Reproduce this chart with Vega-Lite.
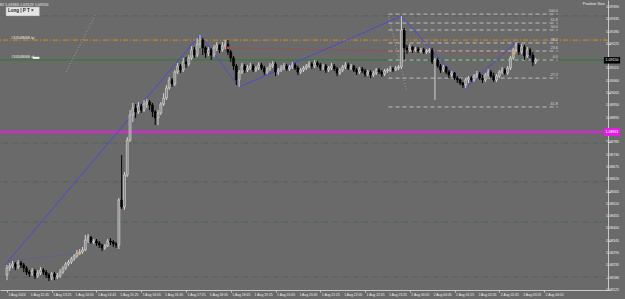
{
"$schema":"https://vega.github.io/schema/vega-lite/v6.json",
"width":608,"height":290,
"autosize":{"type":"none"},
"padding":{"left":0,"top":0,"right":17,"bottom":9},
"background":"#6a6a6a",
"config":{"view":{"stroke":null},"font":"Liberation Sans","axis":{"grid":false,"title":null,"domainColor":"#c8c8c8","tickColor":"#c8c8c8","labels":false,"tickSize":2}},
"datasets":{
"xl":[{"v":0,"t":"1 Aug 2024"},{"v":8,"t":"1 Aug 12:45"},{"v":16,"t":"1 Aug 13:25"},{"v":24,"t":"1 Aug 14:05"},{"v":32,"t":"1 Aug 14:45"},{"v":40,"t":"1 Aug 15:25"},{"v":48,"t":"1 Aug 16:05"},{"v":56,"t":"1 Aug 16:45"},{"v":64,"t":"1 Aug 17:25"},{"v":72,"t":"1 Aug 18:05"},{"v":80,"t":"1 Aug 18:45"},{"v":88,"t":"1 Aug 19:25"},{"v":96,"t":"1 Aug 20:05"},{"v":104,"t":"1 Aug 20:45"},{"v":112,"t":"1 Aug 21:25"},{"v":120,"t":"1 Aug 22:05"},{"v":128,"t":"1 Aug 22:45"},{"v":136,"t":"1 Aug 23:25"},{"v":144,"t":"2 Aug 00:05"},{"v":152,"t":"2 Aug 00:45"},{"v":160,"t":"2 Aug 01:25"},{"v":168,"t":"2 Aug 02:05"},{"v":176,"t":"2 Aug 02:45"},{"v":184,"t":"2 Aug 03:25"},{"v":192,"t":"2 Aug 04:05"}],
"yl":[{"p":1.08125},{"p":1.08180},{"p":1.08235},{"p":1.08290},{"p":1.08345},{"p":1.08400},{"p":1.08455},{"p":1.08510},{"p":1.08565},{"p":1.08620},{"p":1.08675},{"p":1.08730},{"p":1.08785},{"p":1.08895},{"p":1.08950},{"p":1.09005},{"p":1.09060},{"p":1.09115},{"p":1.09225},{"p":1.09280},{"p":1.09335},{"p":1.09390}],
"hl":[{"p":1.09350,"k":"dd"},{"p":1.08782,"k":"dd"},{"p":1.08608,"k":"dd"},{"p":1.08429,"k":"dd"},{"p":1.08183,"k":"dd"},{"p":1.09242,"k":"tp"},{"p":1.09153,"k":"sl"},{"p":1.08831,"k":"mag"}],
"fib":[{"a":136.4,"b":196.9,"p":1.09358,"t":"100.0"},{"a":136.4,"b":196.9,"p":1.09318,"t":"61.8"},{"a":136.4,"b":196.9,"p":1.09287,"t":"50.0"},{"a":136.4,"b":196.9,"p":1.09229,"t":"38.2"},{"a":136.4,"b":196.9,"p":1.09193,"t":"23.6"},{"a":136.4,"b":196.9,"p":1.09153,"t":"0.0"},{"a":136.4,"b":196.9,"p":1.09072,"t":"-27.2"},{"a":136.4,"b":196.9,"p":1.08943,"t":"-61.8"}],
"zz":[{"i":-0.7,"p":1.08237},{"i":69,"p":1.09265},{"i":83,"p":1.09032},{"i":141,"p":1.09349},{"i":164,"p":1.09028},{"i":182,"p":1.09233},{"i":189,"p":1.09135}],
"gdot":[{"i":31.6,"p":1.09354,"g":"a"},{"i":21.1,"p":1.09099,"g":"a"},{"i":136.4,"p":1.09350,"g":"b"},{"i":142.8,"p":1.09019,"g":"b"}],
"bdot":[{"i":1,"p":1.08255},{"i":26,"p":1.08290}],
"rdot":[{"i":79.1,"p":1.09207},{"i":181.4,"p":1.09184}],
"marks":[{"i":26,"p":1.08290,"k":"o"},{"i":79.1,"p":1.09207,"k":"r"},{"i":181.4,"p":1.09184,"k":"o"}],
"candles":[
{"i":0,"o":1.08192,"h":1.08237,"l":1.08169,"c":1.08223},
{"i":1,"o":1.08223,"h":1.08246,"l":1.08210,"c":1.08232},
{"i":2,"o":1.08232,"h":1.08255,"l":1.08223,"c":1.08241},
{"i":3,"o":1.08241,"h":1.08250,"l":1.08214,"c":1.08228},
{"i":4,"o":1.08228,"h":1.08259,"l":1.08219,"c":1.08246},
{"i":5,"o":1.08246,"h":1.08255,"l":1.08223,"c":1.08237},
{"i":6,"o":1.08237,"h":1.08246,"l":1.08205,"c":1.08223},
{"i":7,"o":1.08223,"h":1.08232,"l":1.08192,"c":1.08205},
{"i":8,"o":1.08205,"h":1.08214,"l":1.08183,"c":1.08197},
{"i":9,"o":1.08197,"h":1.08223,"l":1.08188,"c":1.08210},
{"i":10,"o":1.08210,"h":1.08219,"l":1.08174,"c":1.08188},
{"i":11,"o":1.08188,"h":1.08214,"l":1.08179,"c":1.08201},
{"i":12,"o":1.08201,"h":1.08228,"l":1.08192,"c":1.08214},
{"i":13,"o":1.08214,"h":1.08223,"l":1.08192,"c":1.08205},
{"i":14,"o":1.08205,"h":1.08214,"l":1.08179,"c":1.08192},
{"i":15,"o":1.08192,"h":1.08201,"l":1.08165,"c":1.08179},
{"i":16,"o":1.08179,"h":1.08205,"l":1.08169,"c":1.08197},
{"i":17,"o":1.08197,"h":1.08205,"l":1.08169,"c":1.08183},
{"i":18,"o":1.08183,"h":1.08201,"l":1.08174,"c":1.08188},
{"i":19,"o":1.08188,"h":1.08219,"l":1.08179,"c":1.08205},
{"i":20,"o":1.08205,"h":1.08232,"l":1.08197,"c":1.08223},
{"i":21,"o":1.08223,"h":1.08250,"l":1.08214,"c":1.08241},
{"i":22,"o":1.08241,"h":1.08259,"l":1.08232,"c":1.08250},
{"i":23,"o":1.08250,"h":1.08273,"l":1.08241,"c":1.08264},
{"i":24,"o":1.08264,"h":1.08286,"l":1.08255,"c":1.08277},
{"i":25,"o":1.08277,"h":1.08304,"l":1.08268,"c":1.08290},
{"i":26,"o":1.08290,"h":1.08308,"l":1.08281,"c":1.08295},
{"i":27,"o":1.08295,"h":1.08317,"l":1.08286,"c":1.08304},
{"i":28,"o":1.08304,"h":1.08371,"l":1.08299,"c":1.08348},
{"i":29,"o":1.08348,"h":1.08375,"l":1.08335,"c":1.08362},
{"i":30,"o":1.08362,"h":1.08366,"l":1.08331,"c":1.08340},
{"i":31,"o":1.08340,"h":1.08353,"l":1.08331,"c":1.08344},
{"i":32,"o":1.08344,"h":1.08353,"l":1.08322,"c":1.08335},
{"i":33,"o":1.08335,"h":1.08344,"l":1.08313,"c":1.08326},
{"i":34,"o":1.08326,"h":1.08331,"l":1.08299,"c":1.08313},
{"i":35,"o":1.08313,"h":1.08331,"l":1.08304,"c":1.08322},
{"i":36,"o":1.08322,"h":1.08353,"l":1.08317,"c":1.08344},
{"i":37,"o":1.08344,"h":1.08357,"l":1.08326,"c":1.08340},
{"i":38,"o":1.08340,"h":1.08348,"l":1.08317,"c":1.08331},
{"i":39,"o":1.08331,"h":1.08340,"l":1.08313,"c":1.08326},
{"i":40,"o":1.08326,"h":1.08536,"l":1.08308,"c":1.08527},
{"i":41,"o":1.08527,"h":1.08728,"l":1.08487,"c":1.08496},
{"i":42,"o":1.08496,"h":1.08652,"l":1.08483,"c":1.08639},
{"i":43,"o":1.08639,"h":1.08809,"l":1.08630,"c":1.08795},
{"i":44,"o":1.08795,"h":1.08929,"l":1.08786,"c":1.08907},
{"i":45,"o":1.08907,"h":1.08961,"l":1.08876,"c":1.08938},
{"i":46,"o":1.08938,"h":1.08956,"l":1.08894,"c":1.08921},
{"i":47,"o":1.08921,"h":1.08965,"l":1.08912,"c":1.08947},
{"i":48,"o":1.08947,"h":1.08956,"l":1.08916,"c":1.08929},
{"i":49,"o":1.08929,"h":1.08974,"l":1.08921,"c":1.08956},
{"i":50,"o":1.08956,"h":1.08979,"l":1.08938,"c":1.08965},
{"i":51,"o":1.08965,"h":1.08974,"l":1.08929,"c":1.08952},
{"i":52,"o":1.08952,"h":1.08961,"l":1.08898,"c":1.08921},
{"i":53,"o":1.08921,"h":1.08929,"l":1.08862,"c":1.08894},
{"i":54,"o":1.08894,"h":1.08929,"l":1.08862,"c":1.08916},
{"i":55,"o":1.08916,"h":1.08965,"l":1.08907,"c":1.08956},
{"i":56,"o":1.08956,"h":1.09005,"l":1.08947,"c":1.08983},
{"i":57,"o":1.08983,"h":1.09041,"l":1.08974,"c":1.09028},
{"i":58,"o":1.09028,"h":1.09077,"l":1.09019,"c":1.09064},
{"i":59,"o":1.09064,"h":1.09072,"l":1.09032,"c":1.09046},
{"i":60,"o":1.09046,"h":1.09108,"l":1.09037,"c":1.09099},
{"i":61,"o":1.09099,"h":1.09140,"l":1.09090,"c":1.09126},
{"i":62,"o":1.09126,"h":1.09135,"l":1.09095,"c":1.09108},
{"i":63,"o":1.09108,"h":1.09162,"l":1.09099,"c":1.09144},
{"i":64,"o":1.09144,"h":1.09166,"l":1.09117,"c":1.09135},
{"i":65,"o":1.09135,"h":1.09175,"l":1.09126,"c":1.09162},
{"i":66,"o":1.09162,"h":1.09215,"l":1.09153,"c":1.09198},
{"i":67,"o":1.09198,"h":1.09211,"l":1.09162,"c":1.09175},
{"i":68,"o":1.09175,"h":1.09251,"l":1.09166,"c":1.09224},
{"i":69,"o":1.09224,"h":1.09265,"l":1.09207,"c":1.09242},
{"i":70,"o":1.09242,"h":1.09251,"l":1.09175,"c":1.09207},
{"i":71,"o":1.09207,"h":1.09215,"l":1.09162,"c":1.09184},
{"i":72,"o":1.09184,"h":1.09211,"l":1.09171,"c":1.09198},
{"i":73,"o":1.09198,"h":1.09207,"l":1.09153,"c":1.09175},
{"i":74,"o":1.09175,"h":1.09220,"l":1.09166,"c":1.09207},
{"i":75,"o":1.09207,"h":1.09233,"l":1.09193,"c":1.09220},
{"i":76,"o":1.09220,"h":1.09224,"l":1.09184,"c":1.09198},
{"i":77,"o":1.09198,"h":1.09233,"l":1.09189,"c":1.09215},
{"i":78,"o":1.09215,"h":1.09242,"l":1.09202,"c":1.09224},
{"i":79,"o":1.09224,"h":1.09242,"l":1.09175,"c":1.09189},
{"i":80,"o":1.09189,"h":1.09198,"l":1.09144,"c":1.09162},
{"i":81,"o":1.09162,"h":1.09171,"l":1.09108,"c":1.09126},
{"i":82,"o":1.09126,"h":1.09135,"l":1.09041,"c":1.09064},
{"i":83,"o":1.09064,"h":1.09108,"l":1.09032,"c":1.09099},
{"i":84,"o":1.09099,"h":1.09140,"l":1.09090,"c":1.09126},
{"i":85,"o":1.09126,"h":1.09135,"l":1.09095,"c":1.09108},
{"i":86,"o":1.09108,"h":1.09131,"l":1.09099,"c":1.09117},
{"i":87,"o":1.09117,"h":1.09140,"l":1.09108,"c":1.09126},
{"i":88,"o":1.09126,"h":1.09135,"l":1.09099,"c":1.09108},
{"i":89,"o":1.09108,"h":1.09126,"l":1.09099,"c":1.09117},
{"i":90,"o":1.09117,"h":1.09144,"l":1.09108,"c":1.09131},
{"i":91,"o":1.09131,"h":1.09140,"l":1.09108,"c":1.09117},
{"i":92,"o":1.09117,"h":1.09126,"l":1.09086,"c":1.09099},
{"i":93,"o":1.09099,"h":1.09122,"l":1.09090,"c":1.09113},
{"i":94,"o":1.09113,"h":1.09140,"l":1.09104,"c":1.09126},
{"i":95,"o":1.09126,"h":1.09148,"l":1.09117,"c":1.09135},
{"i":96,"o":1.09135,"h":1.09144,"l":1.09081,"c":1.09099},
{"i":97,"o":1.09099,"h":1.09117,"l":1.09086,"c":1.09108},
{"i":98,"o":1.09108,"h":1.09131,"l":1.09099,"c":1.09117},
{"i":99,"o":1.09117,"h":1.09140,"l":1.09108,"c":1.09126},
{"i":100,"o":1.09126,"h":1.09135,"l":1.09104,"c":1.09113},
{"i":101,"o":1.09113,"h":1.09131,"l":1.09104,"c":1.09122},
{"i":102,"o":1.09122,"h":1.09144,"l":1.09113,"c":1.09131},
{"i":103,"o":1.09131,"h":1.09140,"l":1.09108,"c":1.09117},
{"i":104,"o":1.09117,"h":1.09126,"l":1.09086,"c":1.09099},
{"i":105,"o":1.09099,"h":1.09117,"l":1.09090,"c":1.09108},
{"i":106,"o":1.09108,"h":1.09126,"l":1.09099,"c":1.09117},
{"i":107,"o":1.09117,"h":1.09135,"l":1.09108,"c":1.09126},
{"i":108,"o":1.09126,"h":1.09148,"l":1.09117,"c":1.09135},
{"i":109,"o":1.09135,"h":1.09144,"l":1.09113,"c":1.09126},
{"i":110,"o":1.09126,"h":1.09153,"l":1.09117,"c":1.09140},
{"i":111,"o":1.09140,"h":1.09148,"l":1.09122,"c":1.09131},
{"i":112,"o":1.09131,"h":1.09140,"l":1.09104,"c":1.09117},
{"i":113,"o":1.09117,"h":1.09135,"l":1.09108,"c":1.09126},
{"i":114,"o":1.09126,"h":1.09135,"l":1.09095,"c":1.09108},
{"i":115,"o":1.09108,"h":1.09126,"l":1.09099,"c":1.09117},
{"i":116,"o":1.09117,"h":1.09140,"l":1.09108,"c":1.09126},
{"i":117,"o":1.09126,"h":1.09135,"l":1.09104,"c":1.09113},
{"i":118,"o":1.09113,"h":1.09122,"l":1.09081,"c":1.09095},
{"i":119,"o":1.09095,"h":1.09117,"l":1.09086,"c":1.09108},
{"i":120,"o":1.09108,"h":1.09131,"l":1.09099,"c":1.09122},
{"i":121,"o":1.09122,"h":1.09144,"l":1.09113,"c":1.09131},
{"i":122,"o":1.09131,"h":1.09140,"l":1.09108,"c":1.09117},
{"i":123,"o":1.09117,"h":1.09135,"l":1.09108,"c":1.09126},
{"i":124,"o":1.09126,"h":1.09131,"l":1.09099,"c":1.09108},
{"i":125,"o":1.09108,"h":1.09117,"l":1.09086,"c":1.09099},
{"i":126,"o":1.09099,"h":1.09122,"l":1.09090,"c":1.09113},
{"i":127,"o":1.09113,"h":1.09122,"l":1.09095,"c":1.09104},
{"i":128,"o":1.09104,"h":1.09113,"l":1.09077,"c":1.09090},
{"i":129,"o":1.09090,"h":1.09108,"l":1.09081,"c":1.09099},
{"i":130,"o":1.09099,"h":1.09108,"l":1.09072,"c":1.09086},
{"i":131,"o":1.09086,"h":1.09104,"l":1.09077,"c":1.09095},
{"i":132,"o":1.09095,"h":1.09117,"l":1.09086,"c":1.09108},
{"i":133,"o":1.09108,"h":1.09117,"l":1.09090,"c":1.09099},
{"i":134,"o":1.09099,"h":1.09108,"l":1.09077,"c":1.09090},
{"i":135,"o":1.09090,"h":1.09113,"l":1.09081,"c":1.09104},
{"i":136,"o":1.09104,"h":1.09117,"l":1.09095,"c":1.09108},
{"i":137,"o":1.09108,"h":1.09126,"l":1.09099,"c":1.09113},
{"i":138,"o":1.09113,"h":1.09122,"l":1.09099,"c":1.09108},
{"i":139,"o":1.09108,"h":1.09126,"l":1.09104,"c":1.09117},
{"i":140,"o":1.09117,"h":1.09131,"l":1.09108,"c":1.09122},
{"i":141,"o":1.09122,"h":1.09349,"l":1.09113,"c":1.09287},
{"i":142,"o":1.09287,"h":1.09296,"l":1.09153,"c":1.09207},
{"i":143,"o":1.09207,"h":1.09220,"l":1.09180,"c":1.09198},
{"i":144,"o":1.09198,"h":1.09224,"l":1.09189,"c":1.09211},
{"i":145,"o":1.09211,"h":1.09215,"l":1.09184,"c":1.09198},
{"i":146,"o":1.09198,"h":1.09211,"l":1.09189,"c":1.09202},
{"i":147,"o":1.09202,"h":1.09211,"l":1.09184,"c":1.09193},
{"i":148,"o":1.09193,"h":1.09207,"l":1.09184,"c":1.09198},
{"i":149,"o":1.09198,"h":1.09207,"l":1.09180,"c":1.09189},
{"i":150,"o":1.09189,"h":1.09202,"l":1.09180,"c":1.09193},
{"i":151,"o":1.09193,"h":1.09207,"l":1.09184,"c":1.09198},
{"i":152,"o":1.09198,"h":1.09207,"l":1.09135,"c":1.09144},
{"i":153,"o":1.09144,"h":1.09162,"l":1.08974,"c":1.09153},
{"i":154,"o":1.09153,"h":1.09162,"l":1.09117,"c":1.09126},
{"i":155,"o":1.09126,"h":1.09135,"l":1.09095,"c":1.09108},
{"i":156,"o":1.09108,"h":1.09131,"l":1.09099,"c":1.09122},
{"i":157,"o":1.09122,"h":1.09126,"l":1.09090,"c":1.09099},
{"i":158,"o":1.09099,"h":1.09108,"l":1.09072,"c":1.09086},
{"i":159,"o":1.09086,"h":1.09104,"l":1.09077,"c":1.09095},
{"i":160,"o":1.09095,"h":1.09099,"l":1.09064,"c":1.09072},
{"i":161,"o":1.09072,"h":1.09081,"l":1.09050,"c":1.09064},
{"i":162,"o":1.09064,"h":1.09072,"l":1.09041,"c":1.09050},
{"i":163,"o":1.09050,"h":1.09055,"l":1.09028,"c":1.09041},
{"i":164,"o":1.09041,"h":1.09072,"l":1.09028,"c":1.09064},
{"i":165,"o":1.09064,"h":1.09081,"l":1.09050,"c":1.09072},
{"i":166,"o":1.09072,"h":1.09081,"l":1.09055,"c":1.09064},
{"i":167,"o":1.09064,"h":1.09090,"l":1.09055,"c":1.09081},
{"i":168,"o":1.09081,"h":1.09104,"l":1.09072,"c":1.09090},
{"i":169,"o":1.09090,"h":1.09099,"l":1.09064,"c":1.09072},
{"i":170,"o":1.09072,"h":1.09086,"l":1.09050,"c":1.09064},
{"i":171,"o":1.09064,"h":1.09095,"l":1.09055,"c":1.09086},
{"i":172,"o":1.09086,"h":1.09113,"l":1.09077,"c":1.09099},
{"i":173,"o":1.09099,"h":1.09108,"l":1.09072,"c":1.09081},
{"i":174,"o":1.09081,"h":1.09095,"l":1.09055,"c":1.09064},
{"i":175,"o":1.09064,"h":1.09090,"l":1.09055,"c":1.09081},
{"i":176,"o":1.09081,"h":1.09108,"l":1.09072,"c":1.09099},
{"i":177,"o":1.09099,"h":1.09122,"l":1.09090,"c":1.09108},
{"i":178,"o":1.09108,"h":1.09117,"l":1.09086,"c":1.09095},
{"i":179,"o":1.09095,"h":1.09126,"l":1.09086,"c":1.09117},
{"i":180,"o":1.09117,"h":1.09171,"l":1.09108,"c":1.09162},
{"i":181,"o":1.09162,"h":1.09207,"l":1.09153,"c":1.09198},
{"i":182,"o":1.09198,"h":1.09233,"l":1.09189,"c":1.09220},
{"i":183,"o":1.09220,"h":1.09229,"l":1.09175,"c":1.09189},
{"i":184,"o":1.09189,"h":1.09224,"l":1.09179,"c":1.09211},
{"i":185,"o":1.09211,"h":1.09220,"l":1.09153,"c":1.09171},
{"i":186,"o":1.09171,"h":1.09211,"l":1.09162,"c":1.09198},
{"i":187,"o":1.09198,"h":1.09207,"l":1.09162,"c":1.09175},
{"i":188,"o":1.09175,"h":1.09189,"l":1.09126,"c":1.09144},
{"i":189,"o":1.09144,"h":1.09162,"l":1.09135,"c":1.09153}
]
},
"layer":[
{"data":{"name":"candles"},"mark":{"type":"rule","strokeWidth":1},"encoding":{"x":{"field":"i","type":"quantitative","scale":{"domain":[-0.703,213.08],"nice":false,"zero":false},"axis":{"orient":"bottom","values":[0,8,16,24,32,40,48,56,64,72,80,88,96,104,112,120,128,136,144,152,160,168,176,184,192]}},"y":{"field":"l","type":"quantitative","scale":{"domain":[1.08125,1.09421],"nice":false,"zero":false},"axis":{"orient":"right","values":[1.08125,1.0818,1.08235,1.0829,1.08345,1.084,1.08455,1.0851,1.08565,1.0862,1.08675,1.0873,1.08785,1.0884,1.08895,1.0895,1.09005,1.0906,1.09115,1.0917,1.09225,1.0928,1.09335,1.0939]}},"y2":{"field":"h"},"opacity":{"value":0}}},
{"data":{"name":"xl"},"mark":{"type":"text","color":"#f0f0f0","fontSize":3.4,"align":"left","baseline":"middle","dx":1.5,"dy":4.5},"encoding":{"x":{"field":"v","type":"quantitative"},"y":{"datum":1.08125,"type":"quantitative"},"text":{"field":"t"}}},
{"data":{"name":"yl"},"mark":{"type":"text","color":"#f0f0f0","fontSize":3.6,"align":"left","baseline":"middle","dx":3},"encoding":{"x":{"datum":213.08,"type":"quantitative"},"y":{"field":"p","type":"quantitative"},"text":{"field":"p","type":"quantitative","format":".5f"}}},
{"data":{"name":"hl"},"transform":[{"filter":"datum.k=='dd'"}],"mark":{"type":"rule","color":"#4d6358","strokeWidth":1,"strokeDash":[5,2,1,2]},"encoding":{"y":{"field":"p","type":"quantitative"}}},
{"data":{"name":"hl"},"transform":[{"filter":"datum.k=='tp'"}],"mark":{"type":"rule","color":"#d4901c","strokeWidth":1,"strokeDash":[5,2,1,2]},"encoding":{"y":{"field":"p","type":"quantitative"}}},
{"data":{"name":"hl"},"transform":[{"filter":"datum.k=='sl'"}],"mark":{"type":"rule","color":"#2f7a2f","strokeWidth":1},"encoding":{"y":{"field":"p","type":"quantitative"}}},
{"data":{"name":"hl"},"transform":[{"filter":"datum.k=='mag'"}],"mark":{"type":"rule","color":"#e020e0","strokeWidth":2},"encoding":{"y":{"field":"p","type":"quantitative"}}},
{"data":{"name":"fib"},"mark":{"type":"rule","color":"#bdbdbd","strokeWidth":1,"strokeDash":[4,3]},"encoding":{"x":{"field":"a","type":"quantitative"},"x2":{"field":"b"},"y":{"field":"p","type":"quantitative"}}},
{"data":{"name":"fib"},"mark":{"type":"text","color":"#d8d8d8","fontSize":3.6,"align":"right","baseline":"bottom","dy":-1},"encoding":{"x":{"field":"b","type":"quantitative"},"y":{"field":"p","type":"quantitative"},"text":{"field":"t"}}},
{"data":{"name":"gdot"},"mark":{"type":"line","color":"#9a9a9a","strokeWidth":1,"strokeDash":[1,2]},"encoding":{"x":{"field":"i","type":"quantitative"},"y":{"field":"p","type":"quantitative"},"detail":{"field":"g"}}},
{"data":{"name":"zz"},"mark":{"type":"line","color":"#4b4bd0","strokeWidth":1,"clip":true},"encoding":{"x":{"field":"i","type":"quantitative"},"y":{"field":"p","type":"quantitative"}}},
{"data":{"name":"bdot"},"mark":{"type":"line","color":"#5050d0","strokeWidth":1,"strokeDash":[1,2]},"encoding":{"x":{"field":"i","type":"quantitative"},"y":{"field":"p","type":"quantitative"}}},
{"data":{"name":"rdot"},"mark":{"type":"line","color":"#d03030","strokeWidth":1,"strokeDash":[1,2]},"encoding":{"x":{"field":"i","type":"quantitative"},"y":{"field":"p","type":"quantitative"}}},
{"data":{"name":"candles"},"mark":{"type":"rule","strokeWidth":1},"encoding":{"x":{"field":"i","type":"quantitative"},"y":{"field":"l","type":"quantitative"},"y2":{"field":"h"},"color":{"condition":{"test":"datum.c>=datum.o","value":"#d4d4d4"},"value":"#000000"}}},
{"data":{"name":"candles"},"mark":{"type":"bar","width":2,"strokeWidth":0.6},"encoding":{"x":{"field":"i","type":"quantitative"},"y":{"field":"o","type":"quantitative"},"y2":{"field":"c"},"fill":{"condition":{"test":"datum.c>=datum.o","value":"#8a8a8a"},"value":"#000000"},"stroke":{"condition":{"test":"datum.c>=datum.o","value":"#dcdcdc"},"value":"#000000"}}},
{"data":{"name":"marks"},"mark":{"type":"square","size":6,"opacity":1},"encoding":{"x":{"field":"i","type":"quantitative"},"y":{"field":"p","type":"quantitative"},"color":{"condition":{"test":"datum.k=='r'","value":"#e04040"},"value":"#f0a860"}}},
{"data":{"values":[{"i":-0.35,"j":11.6,"p1":1.09390,"p2":1.09350}]},"mark":{"type":"rect","fill":"#e6e6e6","stroke":"#a0a0a0","strokeWidth":0.5},"encoding":{"x":{"field":"i","type":"quantitative"},"x2":{"field":"j"},"y":{"field":"p1","type":"quantitative"},"y2":{"field":"p2"}}},
{"data":{"values":[{"i":9.2,"j":11.6,"p1":1.09167,"p2":1.09158}]},"mark":{"type":"rect","fill":"#f4f4f4"},"encoding":{"x":{"field":"i","type":"quantitative"},"x2":{"field":"j"},"y":{"field":"p1","type":"quantitative"},"y2":{"field":"p2"}}},
{"data":{"values":[{"i":0.4,"p":1.09370,"t":"Long  | P T ×"}]},"mark":{"type":"text","color":"#202020","fontSize":4.5,"align":"left","baseline":"middle","fontWeight":"bold"},"encoding":{"x":{"field":"i","type":"quantitative"},"y":{"field":"p","type":"quantitative"},"text":{"field":"t"}}},
{"data":{"values":[{"i":-0.3,"p":1.09398,"t":"▾ EURUSD,M5  1.09182 1.09183 1.09129 1.09150","a":"left"},{"i":209.8,"p":1.09403,"t":"Position Size","a":"right"}]},"mark":{"type":"text","color":"#f0f0f0","fontSize":3.8,"baseline":"middle"},"encoding":{"x":{"field":"i","type":"quantitative"},"y":{"field":"p","type":"quantitative"},"text":{"field":"t"},"align":{"field":"a","type":"nominal","scale":null}}},
{"data":{"values":[{"i":1.5,"p":1.09244,"t":"#10548066 tp"},{"i":1.5,"p":1.09156,"t":"#10548066 sl"}]},"mark":{"type":"text","color":"#f0f0f0","fontSize":3.8,"baseline":"bottom","align":"left"},"encoding":{"x":{"field":"i","type":"quantitative"},"y":{"field":"p","type":"quantitative"},"text":{"field":"t"}}},
{"data":{"values":[{"i":213.4,"j":219.2,"p1":1.08849,"p2":1.08813,"k":"m"},{"i":213.4,"j":219.2,"p1":1.09166,"p2":1.09137,"k":"b"}]},"mark":{"type":"rect"},"encoding":{"x":{"field":"i","type":"quantitative"},"x2":{"field":"j"},"y":{"field":"p1","type":"quantitative"},"y2":{"field":"p2"},"color":{"condition":{"test":"datum.k=='m'","value":"#e020e0"},"value":"#000000"}}},
{"data":{"values":[{"i":214.0,"p":1.08831,"t":"1.08831"},{"i":214.0,"p":1.09152,"t":"1.09150"}]},"mark":{"type":"text","color":"#ffffff","fontSize":3.6,"align":"left","baseline":"middle"},"encoding":{"x":{"field":"i","type":"quantitative"},"y":{"field":"p","type":"quantitative"},"text":{"field":"t"}}}
]
}
